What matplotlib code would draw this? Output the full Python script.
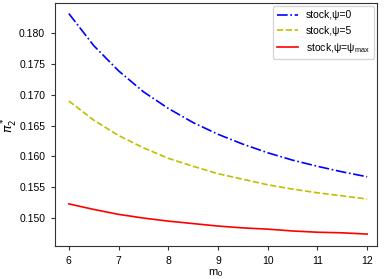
import matplotlib
matplotlib.use("Agg")
import matplotlib.pyplot as plt

plt.rcParams['font.family'] = ['Liberation Sans', 'DejaVu Sans']
plt.rcParams['mathtext.fontset'] = 'custom'
plt.rcParams['mathtext.rm'] = 'Liberation Sans'
plt.rcParams['mathtext.it'] = 'Liberation Sans:italic'

m0 = [6, 6.5, 7, 7.5, 8, 8.5, 9, 9.5, 10, 10.5, 11, 11.5, 12]
psi0 = [0.1832, 0.1780, 0.1739, 0.1705, 0.1678, 0.1655, 0.1636, 0.1620, 0.1606, 0.1594, 0.1584, 0.1575, 0.1567]
psi5 = [0.1690, 0.1659, 0.1634, 0.1614, 0.1597, 0.1584, 0.1572, 0.1563, 0.1554, 0.1547, 0.1541, 0.1536, 0.1531]
psimax = [0.1523, 0.1514, 0.1506, 0.1500, 0.1495, 0.1491, 0.1487, 0.1484, 0.1482, 0.1479, 0.1477, 0.1476, 0.1474]
labels = ['stock,ψ=0', 'stock,ψ=5', 'stock,ψ=ψ$_{\\mathrm{max}}$']
xticks = [6, 7, 8, 9, 10, 11, 12]
yticks = [0.150, 0.155, 0.160, 0.165, 0.170, 0.175, 0.180]

fig = plt.figure(figsize=(3.84, 2.79), dpi=100)
ax = fig.add_axes([0.143, 0.118, 0.839, 0.871])
ax.plot(m0, psi0, color='b', ls='-.', lw=1.2, label=labels[0])
ax.plot(m0, psi5, color='#bfbf00', ls='--', lw=1.2, label=labels[1])
ax.plot(m0, psimax, color='r', ls='-', lw=1.2, label=labels[2])
ax.set_xlim(5.72, 12.2)
ax.set_ylim(0.14545, 0.1849)
ax.set_xticks(xticks)
ax.set_xticklabels([str(v) for v in xticks])
ax.set_yticks(yticks)
ax.set_yticklabels([f"{v:.3f}" for v in yticks])
ax.tick_params(labelsize=7.5, length=3, color='#333333', pad=4)
for s in ax.spines.values():
    s.set_color('#333333')
ax.set_xlabel('m$_0$', fontsize=8, labelpad=1)
ax.set_ylabel('$\\pi_2^*$', fontsize=9, math_fontfamily='dejavusans')
ax.yaxis.set_label_coords(-0.108, 0.5)
ax.legend(loc='upper right', fontsize=7.5, handlelength=2.0, borderaxespad=0.3)
fig.savefig('out.png', dpi=100)
